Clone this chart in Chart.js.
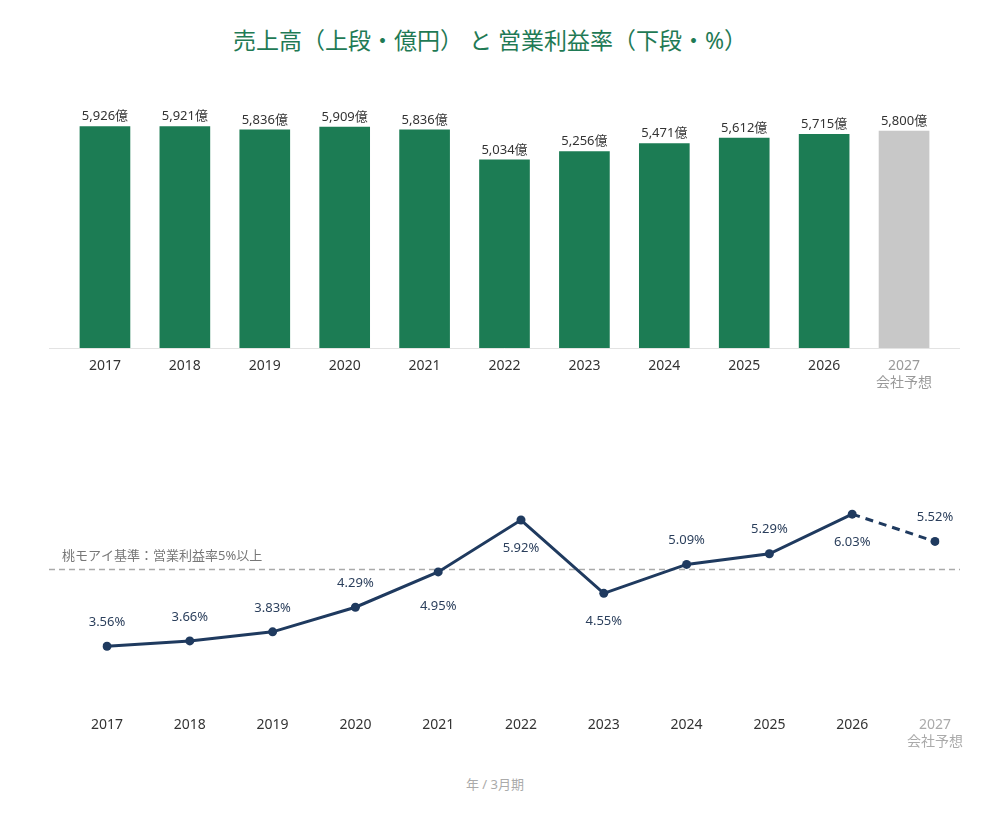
<!DOCTYPE html>
<html><head><meta charset="utf-8">
<script src="https://cdn.jsdelivr.net/npm/chart.js@4.4.1/dist/chart.umd.min.js"></script>
<style>
html,body{margin:0;padding:0;background:#fff;width:990px;height:814px;overflow:hidden;font-family:"Noto Sans","Noto Sans CJK JP",sans-serif;}
#title{position:absolute;left:0;top:22px;width:980px;text-align:center;font-size:23px;color:#1f7a55;}
#footer{position:absolute;left:0;top:774px;width:990px;text-align:center;font-size:13px;color:#aaa;}
.wrap{position:absolute;left:0;width:990px;}
</style></head><body>
<div id="title">売上高（上段・億円） と 営業利益率（下段・%）</div>
<div class="wrap" style="top:60px;height:340px;"><canvas id="c1" width="990" height="340"></canvas></div>
<div class="wrap" style="top:440px;height:320px;"><canvas id="c2" width="990" height="320"></canvas></div>
<div id="footer">年 / 3月期</div>
<script>
const years = ['2017','2018','2019','2020','2021','2022','2023','2024','2025','2026','2027'];
const forecastNote = '会社予想';
const sales = [5926,5921,5836,5909,5836,5034,5256,5471,5612,5715,5800];
const margin = [3.56,3.66,3.83,4.29,4.95,5.92,4.55,5.09,5.29,6.03,5.52];
const marginLabelSide = ['up','up','up','up','down','down','down','up','up','down','up'];
const benchmark = 5;
const benchmarkLabel = '桃モアイ基準：営業利益率5%以上';

const FONT = '"Noto Sans","Noto Sans CJK JP",sans-serif';
const GREEN = '#1c7c54', GRAY = '#c8c8c8', NAVY = '#1f3a5f';
const lastIdx = years.length - 1;
const tickLabels = years.map((y,i)=> i===lastIdx ? [y, forecastNote] : y);

Chart.defaults.font.family = FONT;
Chart.defaults.animation = false;

const barLabels = {
  id:'barLabels',
  afterDatasetsDraw(chart){
    const {ctx} = chart;
    const meta = chart.getDatasetMeta(0);
    ctx.save();
    ctx.font = '13px ' + FONT;
    ctx.fillStyle = '#333';
    ctx.textAlign = 'center';
    ctx.textBaseline = 'middle';
    meta.data.forEach((bar,i)=>{
      ctx.fillText(sales[i].toLocaleString('en-US') + '億', bar.x, bar.y - 10);
    });
    const y = chart.chartArea.bottom + 0.5;
    ctx.strokeStyle = '#e3e3e3';
    ctx.lineWidth = 1;
    ctx.beginPath(); ctx.moveTo(49,y); ctx.lineTo(960,y); ctx.stroke();
    ctx.restore();
  }
};

new Chart(document.getElementById('c1'), {
  type:'bar',
  data:{ labels: tickLabels, datasets:[{ data: sales,
    backgroundColor: sales.map((v,i)=> i===lastIdx ? GRAY : GREEN),
    barThickness: 50 }]},
  options:{
    responsive:false,
    layout:{ padding:{ left:65, right:46, top:45, bottom:0 } },
    plugins:{ legend:{display:false}, tooltip:{enabled:false} },
    scales:{
      x:{ grid:{display:false}, border:{display:false},
          afterFit(s){ s.height = 52; },
          ticks:{ padding:2, font:{size:14}, color:(c)=> c.index===lastIdx ? '#999' : '#333' } },
      y:{ display:false, min:0, max:6500 }
    }
  },
  plugins:[barLabels]
});

const lineExtras = {
  id:'lineExtras',
  beforeDatasetsDraw(chart){
    const {ctx} = chart;
    const y = Math.round(chart.scales.y.getPixelForValue(benchmark)) + 0.5;
    ctx.save();
    ctx.strokeStyle = '#aaa';
    ctx.lineWidth = 1.5;
    ctx.setLineDash([6,4]);
    ctx.beginPath(); ctx.moveTo(49,y); ctx.lineTo(960,y); ctx.stroke();
    ctx.setLineDash([]);
    ctx.font = '13px ' + FONT;
    ctx.fillStyle = '#777';
    ctx.textAlign = 'left';
    ctx.textBaseline = 'middle';
    ctx.fillText(benchmarkLabel, 62, y - 13);
    ctx.restore();
  },
  afterDatasetsDraw(chart){
    const {ctx} = chart;
    const meta = chart.getDatasetMeta(0);
    ctx.save();
    ctx.font = '13px ' + FONT;
    ctx.fillStyle = '#2b3f5c';
    ctx.textAlign = 'center';
    ctx.textBaseline = 'middle';
    meta.data.forEach((pt,i)=>{
      const dy = marginLabelSide[i]==='up' ? -24 : (i===4 ? 34 : 28);
      ctx.fillText(margin[i].toFixed(2) + '%', pt.x, pt.y + dy);
    });
    ctx.restore();
  }
};

new Chart(document.getElementById('c2'), {
  type:'line',
  data:{ labels: tickLabels, datasets:[{ data: margin,
    borderColor: NAVY, borderWidth: 3, backgroundColor: NAVY,
    pointRadius: 4.5, pointBackgroundColor: NAVY, pointBorderWidth: 0,
    tension: 0,
    segment:{ borderDash:(c)=> c.p1DataIndex===lastIdx ? [8,6] : undefined } }]},
  options:{
    responsive:false,
    layout:{ padding:{ left:107, right:55, top:49, bottom:0 } },
    plugins:{ legend:{display:false}, tooltip:{enabled:false} },
    scales:{
      x:{ offset:false, grid:{display:false}, border:{display:false},
          afterFit(s){ s.height = 57; },
          ticks:{ padding:6, font:{size:14}, color:(c)=> c.index===lastIdx ? '#aaa' : '#333' } },
      y:{ display:false, min:2.5, max:6.5 }
    }
  },
  plugins:[lineExtras]
});
</script>
</body></html>
